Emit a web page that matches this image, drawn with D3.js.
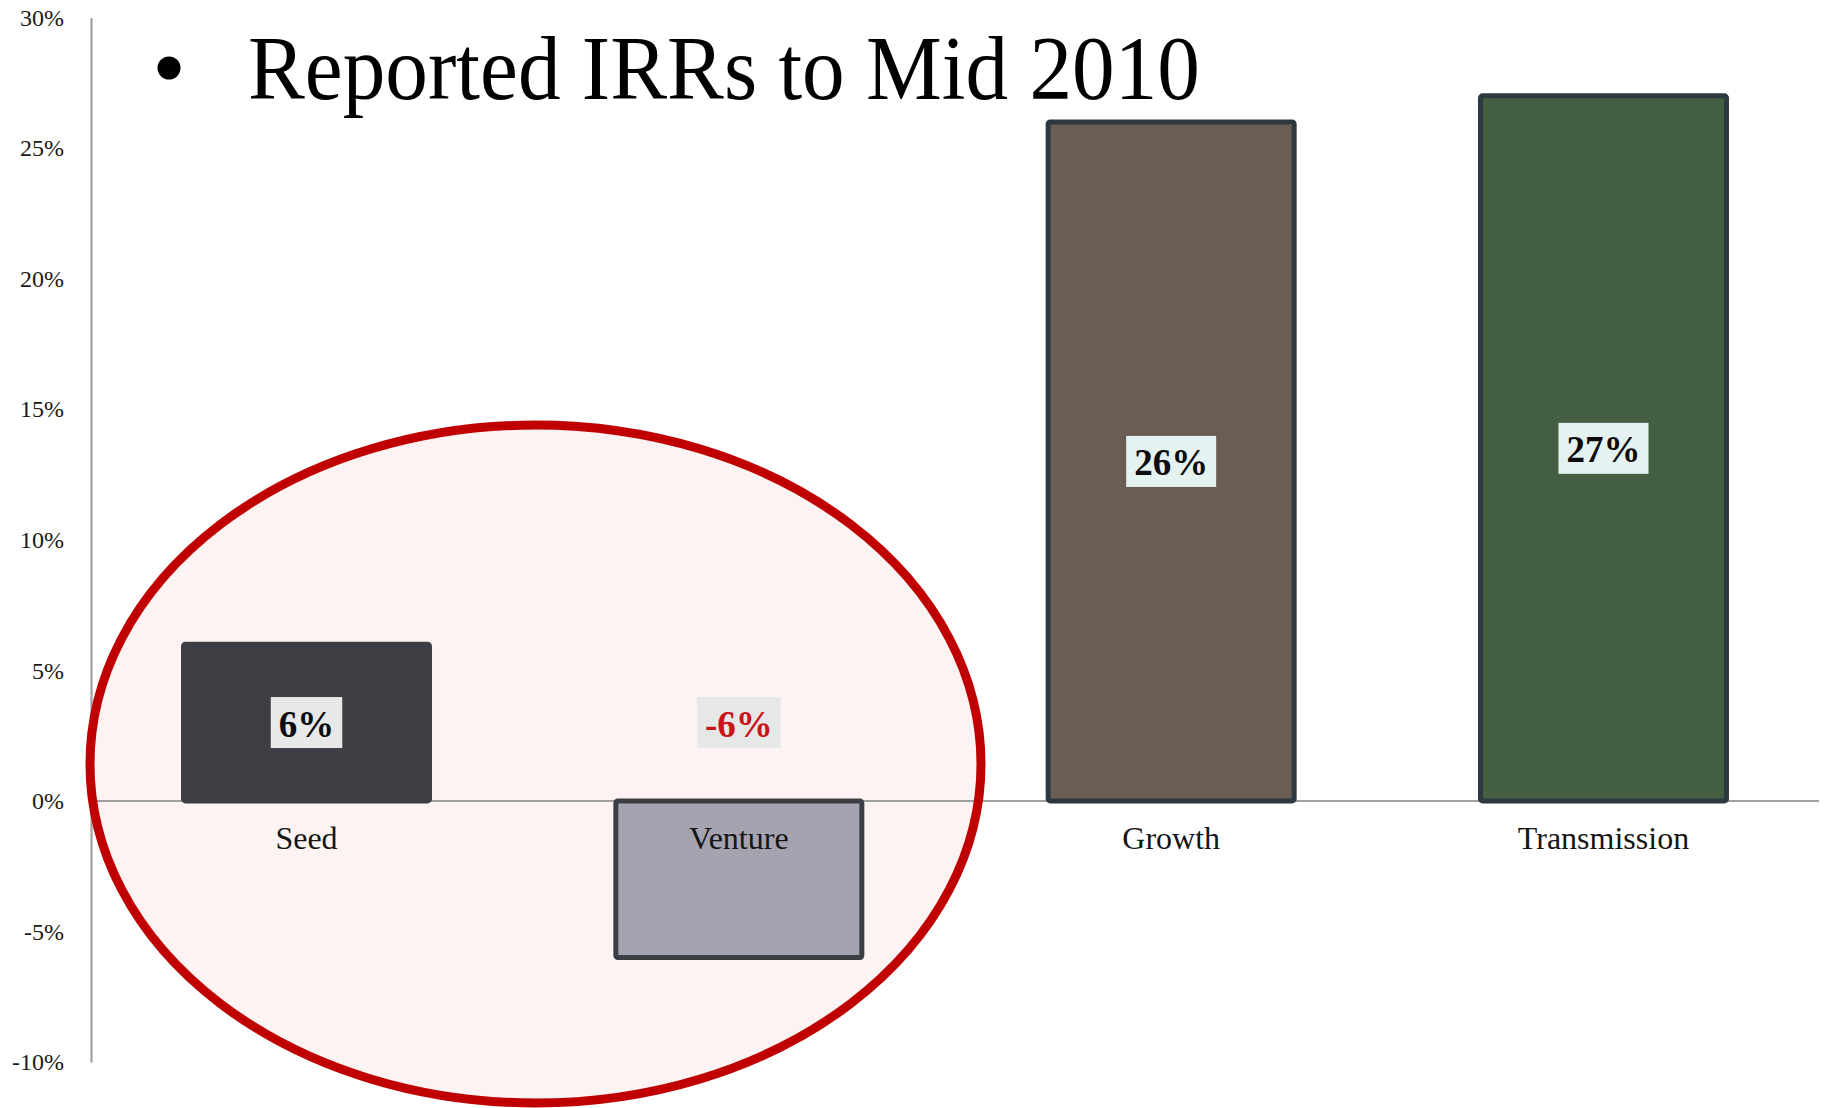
<!DOCTYPE html>
<html>
<head>
<meta charset="utf-8">
<script src="https://cdn.jsdelivr.net/npm/d3@7"></script>
<style>
  html, body { margin: 0; padding: 0; background: #ffffff; }
  svg { display: block; }
  text { font-family: "Liberation Serif", "Times New Roman", serif; }
</style>
</head>
<body>
<svg id="chart" width="1824" height="1108"></svg>
<script>
// Reported IRRs by stage (percent)
const categories = ["Seed", "Venture", "Growth", "Transmission"];
const irrValues = [6, -6, 26, 27];
const yTickValues = [-10, -5, 0, 5, 10, 15, 20, 25, 30];
const titleText = "Reported IRRs to Mid 2010";

// Per-stage appearance
const barFill = { Seed: "#3c3e43", Venture: "#a5a3b0", Growth: "#695d54", Transmission: "#435e41" };
const barStroke = { Seed: "#3c3e43", Venture: "#3b3e43", Growth: "#2d3940", Transmission: "#2d3940" };
const labelBg = { Seed: "#e6e9e7", Venture: "#e5e8e6", Growth: "#e4f2f2", Transmission: "#e4f2f2" };

const width = 1824, height = 1108;
const svg = d3.select("#chart");

const x = d3.scaleBand()
  .domain(categories)
  .range([91, 1819])
  .paddingInner(0.431)
  .paddingOuter(0.214);

const y = d3.scaleLinear()
  .domain([-10, 30])
  .range([1062, 17.5]);

const data = categories.map((c, i) => ({ cat: c, value: irrValues[i] }));

// Highlight ellipse around the early-stage bars (fill underneath, outline on top)
const ring = { cx: 535.5, cy: 764, rx: 445.5, ry: 339 };
svg.append("ellipse")
  .attr("cx", ring.cx).attr("cy", ring.cy)
  .attr("rx", ring.rx).attr("ry", ring.ry)
  .attr("fill", "#fcf3f2")
  .attr("stroke", "none");

// Y axis
const yAxis = d3.axisLeft(y)
  .tickValues(yTickValues)
  .tickFormat(d => d + "%")
  .tickSize(0)
  .tickSizeOuter(0)
  .tickPadding(27);

const gy = svg.append("g")
  .attr("transform", `translate(${x.range()[0]},0)`)
  .call(yAxis);
gy.select(".domain").attr("stroke", "#9a9a9a").attr("stroke-width", 2);
gy.selectAll(".tick text")
  .attr("fill", "#1a1a1a")
  .style("font-size", "24px")
  .style("font-family", "'Liberation Serif', 'Times New Roman', serif");

// Zero baseline
svg.append("line")
  .attr("x1", x.range()[0]).attr("x2", 1819)
  .attr("y1", y(0)).attr("y2", y(0))
  .attr("stroke", "#a0a0a0")
  .attr("stroke-width", 2);

// Bars
svg.append("g").selectAll("rect")
  .data(data)
  .join("rect")
  .attr("x", d => x(d.cat))
  .attr("width", x.bandwidth())
  .attr("y", d => y(Math.max(0, d.value)))
  .attr("height", d => Math.abs(y(d.value) - y(0)))
  .attr("rx", 2)
  .attr("fill", d => barFill[d.cat])
  .attr("stroke", d => barStroke[d.cat])
  .attr("stroke-width", 5);

// Category labels
svg.append("g").selectAll("text")
  .data(data)
  .join("text")
  .attr("x", d => x(d.cat) + x.bandwidth() / 2)
  .attr("y", y(0) + 48)
  .attr("text-anchor", "middle")
  .attr("fill", "#151515")
  .style("font-size", "32px")
  .text(d => d.cat);

// Value labels with boxed backgrounds
const vl = svg.append("g").selectAll("g")
  .data(data)
  .join("g")
  .attr("transform", d => `translate(${x(d.cat) + x.bandwidth() / 2},${y(Math.abs(d.value) / 2)})`);

vl.append("rect").attr("class", "bg");
vl.append("text")
  .attr("text-anchor", "middle")
  .attr("y", 14)
  .attr("fill", d => d.value < 0 ? "#c8141a" : "#0d0d0d")
  .style("font-size", "37px")
  .style("font-weight", "bold")
  .text(d => d.value + "%");

vl.each(function(d) {
  const g = d3.select(this);
  const w = g.select("text").node().getComputedTextLength() + 16;
  g.select("rect.bg")
    .attr("x", -w / 2).attr("width", w)
    .attr("y", -25.5).attr("height", 51)
    .attr("fill", labelBg[d.cat]);
});

// Ellipse outline drawn above axes and bars
svg.append("ellipse")
  .attr("cx", ring.cx).attr("cy", ring.cy)
  .attr("rx", ring.rx).attr("ry", ring.ry)
  .attr("fill", "none")
  .attr("stroke", "#c00000")
  .attr("stroke-width", 9);

// Title with bullet
svg.append("circle")
  .attr("cx", 169).attr("cy", 68).attr("r", 11.5)
  .attr("fill", "#000");
svg.append("text")
  .attr("x", 248).attr("y", 99)
  .attr("fill", "#000")
  .attr("textLength", 952)
  .attr("lengthAdjust", "spacingAndGlyphs")
  .style("font-size", "91px")
  .text(titleText);
</script>
</body>
</html>
